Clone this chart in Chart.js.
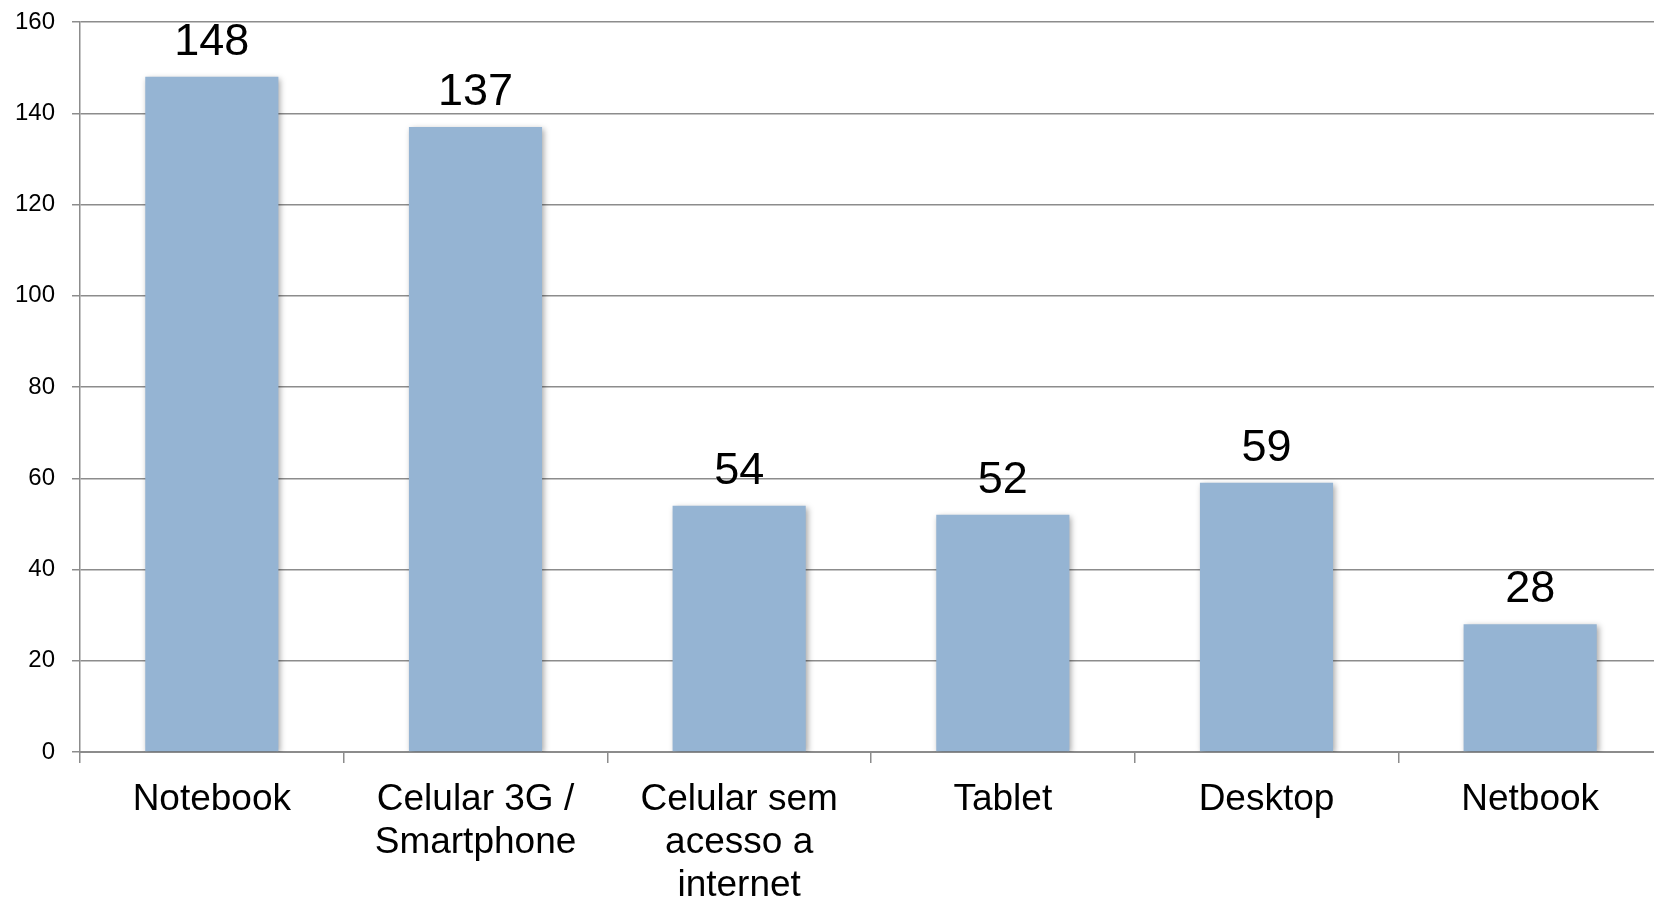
<!DOCTYPE html>
<html>
<head>
<meta charset="utf-8">
<script src="https://cdn.jsdelivr.net/npm/chart.js@4.4.1/dist/chart.umd.min.js"></script>
<style>
  html, body { margin: 0; padding: 0; background: #fff; overflow: hidden; }
  #wrap { width: 1662px; height: 899px; }
</style>
</head>
<body>
<div id="wrap"><canvas id="barChart" width="1662" height="899"></canvas></div>
<script>
// categories and values
const categories = ['Notebook', ['Celular 3G /', 'Smartphone'], ['Celular sem', 'acesso a', 'internet'], 'Tablet', 'Desktop', 'Netbook'];
const values = [148, 137, 54, 52, 59, 28];
const yTicks = [0, 20, 40, 60, 80, 100, 120, 140, 160];

const fontFamily = "'Liberation Sans', Arial, sans-serif";
const gridGray = '#8c8c8c';

// shadow under the bars
const barShadow = {
    id: 'barShadow',
    beforeDatasetsDraw(chart) {
        const ctx = chart.ctx;
        ctx.save();
        ctx.shadowColor = 'rgba(0,0,0,0.35)';
        ctx.shadowBlur = 6;
        ctx.shadowOffsetX = 2;
        ctx.shadowOffsetY = 2;
    },
    afterDatasetsDraw(chart) {
        chart.ctx.restore();
    }
};

// value labels above the bars
const valueLabels = {
    id: 'valueLabels',
    afterDraw(chart) {
        const ctx = chart.ctx;
        const meta = chart.getDatasetMeta(0);
        ctx.save();
        ctx.font = '45px ' + fontFamily;
        ctx.fillStyle = '#000';
        ctx.textAlign = 'center';
        ctx.textBaseline = 'alphabetic';
        meta.data.forEach((bar, i) => {
            ctx.fillText(String(values[i]), bar.x, bar.y - 22);
        });
        ctx.restore();
    }
};

var ctx = document.getElementById('barChart').getContext('2d');
var myChart = new Chart(ctx, {
    type: 'bar',
    data: {
        labels: categories,
        datasets: [{
            data: values,
            backgroundColor: '#95b4d3',
            borderWidth: 0,
            categoryPercentage: 0.505,
            barPercentage: 1.0
        }]
    },
    options: {
        responsive: false,
        animation: false,
        layout: { padding: { top: 22, left: 0, right: 0, bottom: 0 } },
        plugins: {
            legend: { display: false },
            tooltip: { enabled: false }
        },
        scales: {
            x: {
                z: 1,
                offset: true,
                grid: {
                    offset: true,
                    drawOnChartArea: false,
                    drawTicks: true,
                    tickLength: 11,
                    color: gridGray,
                    lineWidth: 1.5
                },
                border: { display: true, color: gridGray, width: 2 },
                ticks: {
                    color: '#000',
                    padding: 15,
                    maxRotation: 0,
                    autoSkip: false,
                    font: { family: fontFamily, size: 37, lineHeight: 1.16 }
                },
                afterFit(scale) {
                    scale.height = 147;
                    scale.paddingLeft = 0;
                    scale.paddingRight = 0;
                }
            },
            y: {
                min: 0,
                max: 160,
                afterBuildTicks(scale) { scale.ticks = yTicks.map(v => ({ value: v })); },
                grid: {
                    color: gridGray,
                    lineWidth: 1.5,
                    drawTicks: true,
                    tickLength: 8
                },
                border: { display: true, color: gridGray, width: 1.5 },
                ticks: {
                    color: '#000',
                    padding: 17,
                    font: { family: fontFamily, size: 24 }
                },
                afterFit(scale) {
                    scale.width = 80;
                    scale.paddingTop = 0;
                    scale.paddingBottom = 0;
                }
            }
        }
    },
    plugins: [barShadow, valueLabels]
});
</script>
</body>
</html>
